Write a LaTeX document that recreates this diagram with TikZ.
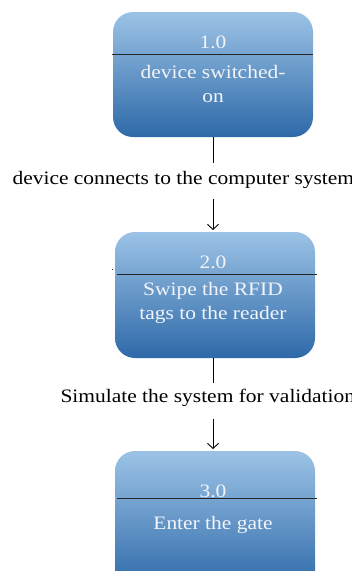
\documentclass[tikz,border=0pt]{standalone}
\usepackage{fontspec}
\setmainfont[FakeStretch=1.13]{Liberation Serif}
\usetikzlibrary{arrows.meta}
\definecolor{boxtop}{HTML}{9CC3E6}
\definecolor{boxbot}{HTML}{2E69A8}
\definecolor{boxtxt}{HTML}{F2F4F8}
\tikzset{
  proc/.style={rounded corners=20pt, top color=boxtop, bottom color=boxbot, draw=none},
  divider/.style={draw=black!85, line width=1pt},
  boxtext/.style={text=boxtxt, font=\fontsize{19}{24}\selectfont, align=center},
  flowlabel/.style={text=black, font=\fontsize{19}{24}\selectfont},
  flow/.style={draw=black, line width=0.9pt},
  flowarrow/.style={draw=black, line width=0.9pt, -{Straight Barb[length=5pt,width=11pt]}},
}
\begin{document}
\begin{tikzpicture}[x=1pt,y=-1pt]
\useasboundingbox (0,0) rectangle (352,571);
\fill[white] (0,0) rectangle (352,571);
% box 1
\path[proc] (113,12) rectangle (313,137);
\node[coordinate] (b1) at (213,137) {};
\draw[divider] (112,54) -- (313,54);
\node[boxtext] (n1) at (213,42) {1.0};
\node[boxtext] (t1) at (213,84) {device switched-\\on};
% box 2
\path[proc] (115,232) rectangle (315,358);
\node[coordinate] (t2top) at (213,230) {};
\node[coordinate] (b2) at (213,358) {};
\draw[divider] (112,269) -- (113,269);
\draw[divider] (117,274) -- (317,274);
\node[boxtext] (n2) at (213,262) {2.0};
\node[boxtext] (t2) at (213,303) {Swipe the RFID\\tags to the reader};
% box 3
\path[proc] (115,451) rectangle (315,590);
\node[coordinate] (t3top) at (213,449) {};
\draw[divider, draw=black!50] (117,505) -- (118,505);
\draw[divider] (117,498) -- (317,498);
\node[boxtext] (n3) at (213,491) {3.0};
\node[boxtext] (t3) at (213,525) {Enter the gate};
% flows
\node[flowlabel, anchor=west] (l1) at (9,180) {device connects to the computer system};
\node[flowlabel, anchor=west] (l2) at (57,398) {Simulate the system for validation};
\node[coordinate] (e1) at (213,163) {};
\node[coordinate] (s1) at (213,199) {};
\node[coordinate] (e2) at (213,383) {};
\node[coordinate] (s2) at (213,419) {};
\draw[flow] (b1) -- (e1);
\draw[flowarrow] (s1) -- (t2top);
\draw[flow] (b2) -- (e2);
\draw[flowarrow] (s2) -- (t3top);
\end{tikzpicture}
\end{document}
